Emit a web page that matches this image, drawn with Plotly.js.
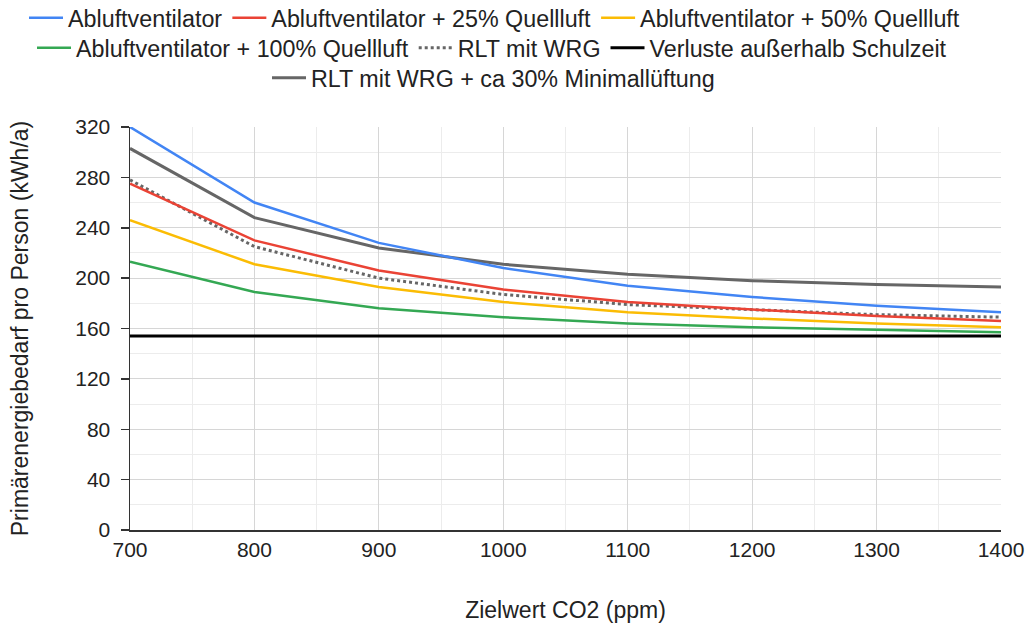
<!DOCTYPE html>
<html>
<head>
<meta charset="utf-8">
<script src="https://cdn.plot.ly/plotly-3.0.1.min.js"></script>
<style>html,body{margin:0;padding:0;background:#fff;}#chart{width:1030px;height:630px;}</style>
</head>
<body>
<div id="chart"></div>
<script>
const co2 = [700, 800, 900, 1000, 1100, 1200, 1300, 1400];
const abluft = [320, 260, 228, 208, 194, 185, 178, 173];
const abluft25 = [275, 230, 206, 191, 181, 175, 170, 166];
const abluft50 = [246, 211, 193, 181, 173, 168, 164, 161];
const abluft100 = [213, 189, 176, 169, 164, 161, 159, 157];
const rltWrg = [278, 225, 200, 187, 179, 175, 171, 169];
const verluste = [154, 154, 154, 154, 154, 154, 154, 154];
const rltMin = [303, 248, 224, 211, 203, 198, 195, 193];
const names = [
  "Abluftventilator",
  "Abluftventilator + 25% Quellluft",
  "Abluftventilator + 50% Quellluft",
  "Abluftventilator + 100% Quellluft",
  "RLT mit WRG",
  "Verluste außerhalb Schulzeit",
  "RLT mit WRG + ca 30% Minimallüftung"
];
const yTicks = [0, 40, 80, 120, 160, 200, 240, 280, 320];
const xTicks = [700, 800, 900, 1000, 1100, 1200, 1300, 1400];

const F = '"Liberation Sans", Arial, sans-serif';
function tr(y, name, color, width, dash, legend) {
  return {x: co2, y: y, name: name, type: 'scatter', mode: 'lines',
    line: {color: color, width: width, dash: dash || 'solid'}, legend: legend};
}
const traces = [
  tr(verluste, names[5], '#000000', 3, 'solid', 'legend2'),
  tr(abluft100, names[3], '#34A853', 2.5, 'solid', 'legend2'),
  tr(abluft50, names[2], '#FBBC04', 2.5, 'solid', 'legend'),
  tr(rltWrg, names[4], '#666666', 3, 'dot', 'legend2'),
  tr(abluft25, names[1], '#EA4335', 2.5, 'solid', 'legend'),
  tr(rltMin, names[6], '#666666', 3, 'solid', 'legend3'),
  tr(abluft, names[0], '#4285F4', 2.5, 'solid', 'legend')
];
const rank = {};
names.forEach((n, i) => rank[n] = i);
traces.forEach(t => t.legendrank = rank[t.name]);

const legBase = {orientation: 'h', xanchor: 'left', yanchor: 'middle',
  font: {family: F, size: 23.3, color: '#222'}, itemwidth: 34, bgcolor: 'rgba(0,0,0,0)',
  traceorder: 'normal'};

const layout = {
  width: 1030, height: 630,
  margin: {l: 130, r: 29, t: 127, b: 100, autoexpand: false},
  paper_bgcolor: '#fff', plot_bgcolor: '#fff',
  font: {family: F, size: 21, color: '#222'},
  showlegend: true,
  legend: Object.assign({}, legBase, {x: -0.1217, y: 1.2705}),
  legend2: Object.assign({}, legBase, {x: -0.1125, y: 1.196}),
  legend3: Object.assign({}, legBase, {x: 0.1573, y: 1.1216}),
  xaxis: {
    range: [700, 1400], tickvals: xTicks, ticktext: xTicks.map(String),
    showgrid: true, gridcolor: '#d6d6d6', gridwidth: 1,
    minor: {dtick: 50, showgrid: true, gridcolor: '#ececec', gridwidth: 1, tick0: 700},
    showline: true, linecolor: '#333', linewidth: 1.5,
    ticks: '', zeroline: false, automargin: false,
    tickfont: {family: F, size: 21, color: '#222'},
    title: {text: 'Zielwert CO2 (ppm)', font: {family: F, size: 23, color: '#222'}, standoff: 42}
  },
  yaxis: {
    range: [0, 320], tickvals: yTicks, ticktext: yTicks.map(String),
    showgrid: true, gridcolor: '#d6d6d6', gridwidth: 1,
    minor: {dtick: 20, showgrid: true, gridcolor: '#ececec', gridwidth: 1, tick0: 0},
    showline: true, linecolor: '#333', linewidth: 1.5,
    ticks: 'outside', ticklen: 8, tickcolor: '#333', tickwidth: 1.5,
    ticklabelstandoff: 6,
    zeroline: false, automargin: false,
    tickfont: {family: F, size: 21, color: '#222'},
    title: {text: 'Primärenergiebedarf pro Person (kWh/a)', font: {family: F, size: 23, color: '#222'}, standoff: 40}
  }
};
Plotly.newPlot('chart', traces, layout, {displayModeBar: false, staticPlot: true});
</script>
</body>
</html>
